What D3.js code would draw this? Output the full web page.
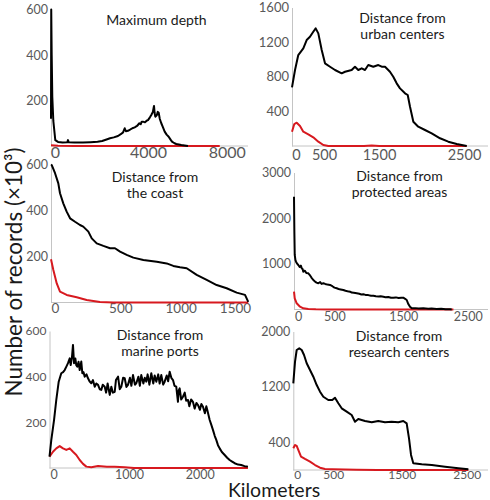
<!DOCTYPE html>
<html><head><meta charset="utf-8">
<script src="https://cdn.jsdelivr.net/npm/d3@7"></script>
<style>body{margin:0;background:#fff}svg{display:block}</style>
</head><body>
<script>
// ---------------- DATA ----------------
const panelTitles = [
  ["Maximum depth"],
  ["Distance from", "urban centers"],
  ["Distance from", "the coast"],
  ["Distance from", "protected areas"],
  ["Distance from", "marine ports"],
  ["Distance from", "research centers"]
];
const xTickValues = [
  [0, 4000, 8000],
  [0, 500, 1500, 2500],
  [0, 500, 1000, 1500],
  [0, 500, 1500, 2500],
  [0, 1000, 2000],
  [0, 500, 1500, 2500]
];
const yTickValues = [
  [200, 400, 600],
  [400, 800, 1200, 1600],
  [200, 400, 600],
  [1000, 2000, 3000],
  [200, 400, 600],
  [400, 1200, 2000]
];
// [km or m, records x10^3]
const depthAll = [[0,120],[10,600],[30,400],[56,215],[100,110],[185,26],[300,18],[500,15],[700,16],[731,26],[760,16],[1000,15],[1376,15],[1700,17],[2000,19],[2200,22],[2451,31],[2537,34],[2700,38],[2881,44],[3000,52],[3100,60],[3170,78],[3220,65],[3311,67],[3400,72],[3500,78],[3600,82],[3700,88],[3800,100],[3860,96],[3901,107],[3957,107],[4050,104],[4150,112],[4203,114],[4300,126],[4371,136],[4450,150],[4508,176],[4540,145],[4574,129],[4650,135],[4700,150],[4747,146],[4800,120],[4879,100],[4950,85],[5052,63],[5150,50],[5255,41],[5350,28],[5423,19],[5550,12],[5641,9],[5895,4],[6235,0]];
const depthRed = [[0,3],[300,1],[1000,0],[7850,0]];

const urbanAll = [[0,678],[54,878],[112,1051],[202,1128],[262,1224],[321,1262],[380,1320],[423,1359],[470,1301],[531,1109],[591,955],[682,916],[773,878],[894,840],[955,858],[1076,878],[1136,916],[1196,878],[1258,897],[1318,878],[1378,935],[1469,916],[1539,935],[1579,916],[1618,916],[1676,858],[1715,800],[1755,724],[1794,666],[1853,609],[1885,589],[1912,454],[1951,281],[2009,223],[2088,185],[2167,147],[2265,89],[2362,50],[2461,23],[2579,0]];
const urbanRed = [[0,165],[41,254],[84,269],[143,231],[202,165],[291,135],[380,100],[470,50],[560,12],[652,0],[1300,0],[1440,5],[1550,0],[2579,0]];

const coastAll = [[0,600],[5,598],[31,562],[56,518],[69,475],[94,431],[120,395],[146,366],[184,351],[222,337],[247,330],[286,308],[312,279],[350,257],[401,246],[452,236],[490,236],[531,221],[586,207],[641,195],[724,185],[835,177],[917,170],[972,159],[1030,153],[1092,149],[1184,120],[1276,98],[1368,76],[1460,62],[1552,43],[1629,33],[1659,3]];
const coastRed = [[0,188],[18,141],[44,83],[69,47],[120,33],[197,23],[273,11],[375,2],[477,0],[1659,0]];

const protectedAll = [[0,2470],[5,1704],[10,1194],[20,1080],[28,1047],[40,1010],[59,975],[80,930],[95,960],[106,902],[120,880],[128,828],[150,850],[170,800],[197,793],[215,760],[240,700],[266,646],[290,610],[310,590],[335,574],[360,600],[380,560],[404,574],[430,560],[460,545],[496,537],[530,510],[560,480],[593,464],[620,450],[650,440],[689,427],[720,410],[750,400],[786,390],[810,370],[840,365],[883,355],[920,345],[950,330],[979,333],[1010,320],[1050,315],[1090,300],[1124,302],[1160,290],[1200,285],[1230,290],[1269,280],[1300,270],[1340,275],[1380,258],[1413,258],[1450,265],[1490,250],[1530,255],[1562,258],[1590,235],[1615,208],[1640,120],[1666,61],[1693,26],[1750,30],[1800,22],[1873,26],[1950,18],[2000,20],[2081,11],[2150,14],[2220,6],[2288,4],[2314,0]];
const protectedRed = [[0,390],[10,245],[37,136],[83,61],[128,26],[197,11],[300,3],[500,0],[2340,0]];

const portsAll = [[0,50],[24,123],[60,210],[90,298],[122,378],[156,415],[180,420],[201,429],[225,445],[245,459],[268,480],[281,451],[298,487],[311,539],[325,459],[342,480],[355,450],[368,444],[385,465],[400,429],[421,466],[435,415],[450,420],[466,400],[490,410],[510,393],[530,380],[554,371],[575,385],[599,356],[620,370],[643,364],[665,345],[686,342],[705,365],[731,356],[750,330],[770,370],[798,320],[819,356],[840,330],[864,334],[880,385],[908,400],[930,345],[951,356],[975,395],[996,393],[1020,355],[1042,364],[1070,395],[1090,360],[1113,407],[1140,365],[1160,371],[1190,400],[1210,360],[1230,407],[1260,370],[1280,395],[1301,378],[1320,410],[1345,365],[1372,415],[1400,370],[1420,405],[1443,378],[1470,410],[1490,370],[1513,407],[1540,365],[1561,378],[1590,405],[1610,380],[1632,422],[1655,395],[1679,385],[1700,360],[1725,356],[1749,290],[1760,340],[1773,349],[1795,300],[1820,312],[1845,330],[1865,295],[1891,298],[1910,270],[1935,300],[1961,290],[1985,260],[2010,285],[2032,276],[2060,255],[2080,280],[2103,268],[2130,240],[2150,270],[2164,254],[2198,210],[2220,190],[2245,166],[2270,140],[2291,123],[2315,100],[2339,86],[2370,70],[2410,57],[2445,45],[2480,35],[2515,28],[2551,21],[2600,15],[2644,13],[2690,8],[2739,6]];
const portsRed = [[0,50],[46,71],[90,86],[135,96],[179,86],[223,79],[268,86],[311,71],[355,57],[400,35],[444,18],[488,6],[554,3],[643,9],[760,5],[864,6],[996,3],[1127,0],[2739,0]];

const researchAll = [[0,1252],[24,1564],[47,1733],[83,1757],[117,1733],[149,1661],[186,1541],[232,1444],[278,1347],[325,1227],[371,1131],[417,1058],[486,1011],[544,1011],[583,1044],[632,963],[681,891],[754,842],[827,794],[876,697],[924,736],[1022,708],[1120,689],[1216,708],[1314,689],[1412,697],[1509,689],[1586,708],[1638,674],[1674,458],[1705,217],[1740,97],[1870,82],[2024,72],[2228,48],[2433,25],[2587,10]];
const researchRed = [[0,313],[24,361],[47,347],[79,264],[107,192],[162,159],[232,120],[302,72],[371,33],[440,14],[544,10],[900,3],[1200,0],[2587,0]];

const allSeries = [depthAll, urbanAll, coastAll, protectedAll, portsAll, researchAll];
const redSeries = [depthRed, urbanRed, coastRed, protectedRed, portsRed, researchRed];

// ---------------- LAYOUT ----------------
const layout = [
  {xr:[51,144,222.7], yr:[146,9.5], end:248, tx:156.5, ty:25, xf:16, xp:1, yf:12.5},
  {xr:[292,320,375,460], yr:[146,7.5], end:488, tx:402.5, ty:22.5, xf:14.5, xp:4, yf:13},
  {xr:[51,116.3,176.7,231], yr:[302.5,164.5], end:248, tx:155, ty:181.5, xf:13.5, xp:1, yf:12.5},
  {xr:[294,330.3,399.3,463.7], yr:[309.5,172.5], end:488, tx:399.5, ty:181.3, xf:12.5, xp:3, yf:12.5},
  {xr:[49.5,125,195.7], yr:[468,331], end:248, tx:160, ty:340, xf:12.5, xp:2, yf:12},
  {xr:[293.3,329.3,397.7,462.7], yr:[470,331.5], end:488, tx:399, ty:340.7, xf:12, xp:0.5, yf:12.5}
];

const W = 490, H = 500;
const FONT = "Lato, 'Open Sans', sans-serif";
const fmt = d3.format("d");
const svg = d3.select("body").append("svg").attr("width", W).attr("height", H);

allSeries.forEach((blk, i) => {
  const L = layout[i];
  const xt = xTickValues[i], yt = yTickValues[i];
  const x = d3.scaleLinear().domain(xt).range(L.xr);
  const y = d3.scaleLinear().domain([0, yt[yt.length - 1]]).range(L.yr);
  const g = svg.append("g");

  // x axis baseline
  g.append("line")
    .attr("x1", x(0)).attr("x2", L.end)
    .attr("y1", y(0)).attr("y2", y(0))
    .attr("stroke", "#c4c4c4").attr("stroke-width", 1);

  // y axis
  const ya = g.append("g").attr("transform", `translate(${x(0)},0)`)
    .call(d3.axisLeft(y).tickValues(yt).tickFormat(fmt).tickSize(0).tickSizeOuter(0).tickPadding(3));
  ya.select(".domain").attr("stroke", "#c4c4c4").attr("stroke-width", 1);
  ya.selectAll("text").attr("font-family", FONT).attr("font-size", L.yf).attr("fill", "#595959");

  // x axis labels
  const xa = g.append("g").attr("transform", `translate(0,${y(0)})`)
    .call(d3.axisBottom(x).tickValues(xt).tickFormat(fmt).tickSize(0).tickPadding(L.xp));
  xa.select(".domain").remove();
  xa.selectAll("text").attr("font-family", FONT).attr("font-size", L.xf)
    .attr("fill", "#595959").attr("dx", 4);

  const line = d3.line().x(d => x(d[0])).y(d => y(d[1]));
  g.append("path").datum(redSeries[i]).attr("d", line)
    .attr("fill", "none").attr("stroke", "#d7191f").attr("stroke-width", 2)
    .attr("stroke-linejoin", "round");
  g.append("path").datum(blk).attr("d", line)
    .attr("fill", "none").attr("stroke", "#000").attr("stroke-width", 2)
    .attr("stroke-linejoin", "round");

  // title
  const t = g.append("text").attr("font-family", FONT).attr("font-size", 14)
    .attr("fill", "#1a1a1a").attr("text-anchor", "middle");
  panelTitles[i].forEach((s, k) => {
    t.append("tspan").attr("x", L.tx).attr("y", L.ty + k * 16).text(s);
  });
});

// axis titles
svg.append("text").attr("font-family", FONT).attr("font-size", 22.5).attr("fill", "#1a1a1a")
  .attr("text-anchor", "middle")
  .attr("transform", "translate(21.5,272) rotate(-90)")
  .text("Number of records (×10³)");
svg.append("text").attr("font-family", FONT).attr("font-size", 19.5).attr("fill", "#1a1a1a")
  .attr("text-anchor", "middle").attr("x", 274).attr("y", 496.5)
  .text("Kilometers");
</script>
</body></html>
